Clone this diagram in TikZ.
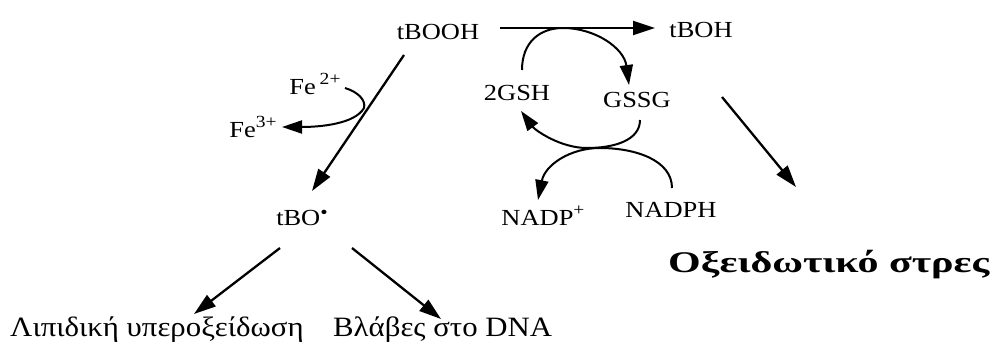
\documentclass[tikz,border=0pt]{standalone}
\usepackage{fontspec}
\setmainfont{Liberation Serif}
\newfontfamily\chemfont[FakeStretch=1.15]{Liberation Serif}
\newfontfamily\grfont[FakeStretch=1.1]{Liberation Serif}
\newfontfamily\grbfont[FakeStretch=1.4]{Liberation Serif}
\newcommand{\chsup}[1]{\raisebox{0.42em}{\fontsize{17}{17}\selectfont #1}}
\usetikzlibrary{arrows.meta}
\begin{document}
\begin{tikzpicture}[x=1pt,y=-1pt,
  chem/.style={inner sep=0pt,font=\chemfont\fontsize{23}{25}\selectfont},
  gr/.style={inner sep=0pt,anchor=base west,font=\grfont\fontsize{28}{30}\selectfont},
  arr/.style={line width=2.3pt,-{Triangle[length=22pt,width=14pt]}},
  curv/.style={line width=2pt,-{Triangle[length=20pt,width=13pt]}}]
\useasboundingbox (0,0) rectangle (1005,345);
% nodes
\node[chem] (tbooh) at (438,32) {tBOOH};
\node[chem] (tboh) at (701,30) {tBOH};
\node[chem] (fe2) at (315,84) {Fe\,\chsup{2+}};
\node[chem] (fe3) at (253,127) {Fe\chsup{3+}};
\node[chem] (tbo) at (302,218) {tBO\raisebox{0.3em}{\scalebox{0.8}{\textbullet}}};
\node[chem] (gsh) at (517,93) {2GSH};
\node[chem] (gssg) at (637,100) {GSSG};
\node[chem] (nadpp) at (543,216) {NADP\chsup{+}};
\node[chem] (nadph) at (671,210) {NADPH};
\node[gr] (lip) at (10,336) {Λιπιδική υπεροξείδωση};
\node[gr] (dna) at (333,336) {Βλάβες στο DNA};
\node[gr,font=\grbfont\bfseries\fontsize{30}{32}\selectfont] (ox) at (668,272) {Οξειδωτικό στρες};
% coordinates
\coordinate (h1) at (500,28);
\coordinate (h2) at (655,28);
\coordinate (d1) at (404,55);
\coordinate (d2) at (312,191);
\coordinate (fa) at (345,88);
\coordinate (fb) at (364,108);
\coordinate (fc) at (282,127);
\coordinate (l1) at (280,248);
\coordinate (l2) at (194,314);
\coordinate (r1) at (352,248);
\coordinate (r2) at (441,319);
\coordinate (o1) at (722,97);
\coordinate (o2) at (796,187);
\coordinate (ga) at (522,70);
\coordinate (gt) at (563,28);
\coordinate (gb) at (629,85);
\coordinate (sa) at (640,120);
\coordinate (sm) at (587,148);
\coordinate (sb) at (521,111);
\coordinate (na) at (672,188);
\coordinate (nm) at (600,148);
\coordinate (nb) at (538,200);
% arrows
\draw[arr] (h1) -- (h2);
\draw[arr] (d1) -- (d2);
\draw[curv] (fa) .. controls (358,92) and (366,100) .. (fb) .. controls (355,124) and (320,127) .. (fc);
\draw[arr] (l1) -- (l2);
\draw[arr] (r1) -- (r2);
\draw[arr] (o1) -- (o2);
\draw[curv] (ga) .. controls (522,42) and (540,28) .. (gt) .. controls (595,28) and (624,48) .. (gb);
\draw[curv] (sa) .. controls (640,140) and (615,148) .. (sm) .. controls (560,148) and (535,130) .. (sb);
\draw[curv] (na) .. controls (672,160) and (635,148) .. (nm) .. controls (570,148) and (545,165) .. (nb);
\end{tikzpicture}
\end{document}
